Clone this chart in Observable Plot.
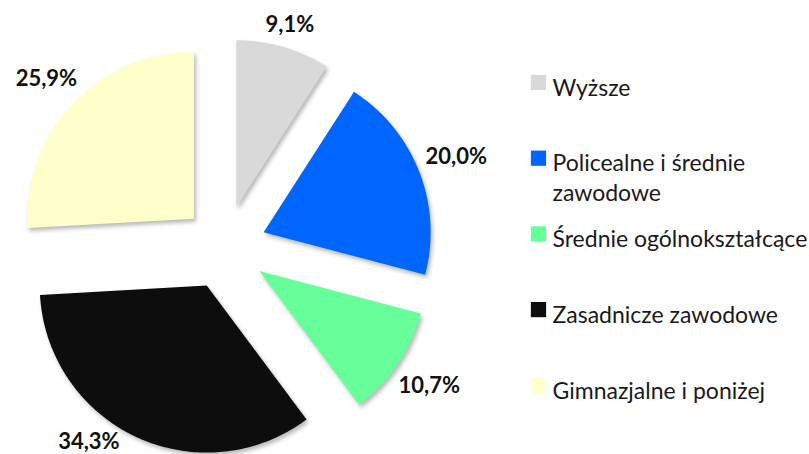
<!DOCTYPE html>
<html>
<head>
<meta charset="utf-8">
<script src="https://cdn.jsdelivr.net/npm/d3@7"></script>
<script src="https://cdn.jsdelivr.net/npm/@observablehq/plot@0.6"></script>
<style>
  html, body { margin: 0; padding: 0; background: #fff; }
  #chart g[aria-label="line"] path { filter: drop-shadow(2px 3px 2px rgba(0,0,0,0.28)); }
</style>
</head>
<body>
<div id="chart"></div>
<script>
// ---- data ----
const categories = ["Wyższe", "Policealne i średnie zawodowe", "Średnie ogólnokształcące", "Zasadnicze zawodowe", "Gimnazjalne i poniżej"];
const values = [9.1, 20.0, 10.7, 34.3, 25.9];
const valueLabels = ["9,1%", "20,0%", "10,7%", "34,3%", "25,9%"];
const colors = ["#d9d9d9", "#0066ff", "#66ff99", "#0d0d0d", "#ffffcc"];

// ---- layout ----
const W = 809, H = 454;
const cx = 224, cy = 247, R = 167, explode = 42;
const labelFont = 22, legendFont = 23;
const ctx = document.createElement("canvas").getContext("2d");
function textW(t, font) { ctx.font = font; return ctx.measureText(t).width; }

const total = d3.sum(values);
const slicePts = [];
const labels = [];
let acc = 0;
categories.forEach((cat, i) => {
  const a0 = acc / total * 2 * Math.PI;
  acc += values[i];
  const a1 = acc / total * 2 * Math.PI;
  const mid = (a0 + a1) / 2;
  const ox = cx + explode * Math.sin(mid), oy = cy - explode * Math.cos(mid);
  slicePts.push({cat, x: ox, y: oy});
  const n = Math.max(8, Math.ceil((a1 - a0) * 60));
  for (let k = 0; k <= n; k++) {
    const a = a0 + (a1 - a0) * k / n;
    slicePts.push({cat, x: ox + R * Math.sin(a), y: oy - R * Math.cos(a)});
  }
  slicePts.push({cat, x: ox, y: oy});
  // label outside end
  const w = textW(valueLabels[i], `bold ${labelFont}px Lato`), h = labelFont * 0.75;
  const s = Math.sin(mid), c = -Math.cos(mid);
  const d = R + 8 + (w / 2) * Math.abs(s) + (h / 2) * Math.abs(c);
  let lx = ox + d * s, ly = oy + d * c;
  const maxY = H - 13;
  if (ly > maxY) {
    const dy = maxY - oy;
    const dx = Math.sqrt(Math.max(0, d * d - dy * dy));
    lx = ox + Math.sign(s) * dx; ly = maxY;
  }
  labels.push({text: valueLabels[i], x: lx, y: ly});
});

// legend
const legX = 538, legTextX = 552, legTop = 82, legStep = 75.7;
function wrap(t, maxW) {
  const words = t.split(" "); const lines = []; let line = "";
  for (const wd of words) {
    const test = line ? line + " " + wd : wd;
    if (line && textW(test, `${legendFont}px Lato`) > maxW) { lines.push(line); line = wd; }
    else line = test;
  }
  lines.push(line);
  return lines.join("\n");
}
const legend = categories.map((cat, i) => ({cat, text: wrap(cat, 275), x: legX, tx: legTextX, y: legTop + i * legStep}));

const chart = Plot.plot({
  width: W, height: H, margin: 0,
  style: {fontFamily: "Lato", background: "#fff"},
  x: {domain: [0, W], range: [0, W], axis: null},
  y: {domain: [0, H], range: [0, H], axis: null},
  color: {domain: categories, range: colors},
  marks: [
    Plot.line(slicePts, {x: "x", y: "y", z: "cat", fill: "cat", stroke: "none", curve: "linear"}),
    Plot.text(labels, {x: "x", y: "y", text: "text", fontWeight: "bold", fontSize: labelFont, fill: "#111"}),
    Plot.dot(legend, {x: "x", y: "y", symbol: "square", fill: "cat", r: 8.6, stroke: "none"}),
    Plot.text(legend, {x: "tx", y: "y", text: "text", textAnchor: "start", lineAnchor: "top", dy: -8, fontSize: legendFont, lineHeight: 1.3, fill: "#1a1a1a"})
  ]
});
document.getElementById("chart").appendChild(chart);
</script>
</body>
</html>
